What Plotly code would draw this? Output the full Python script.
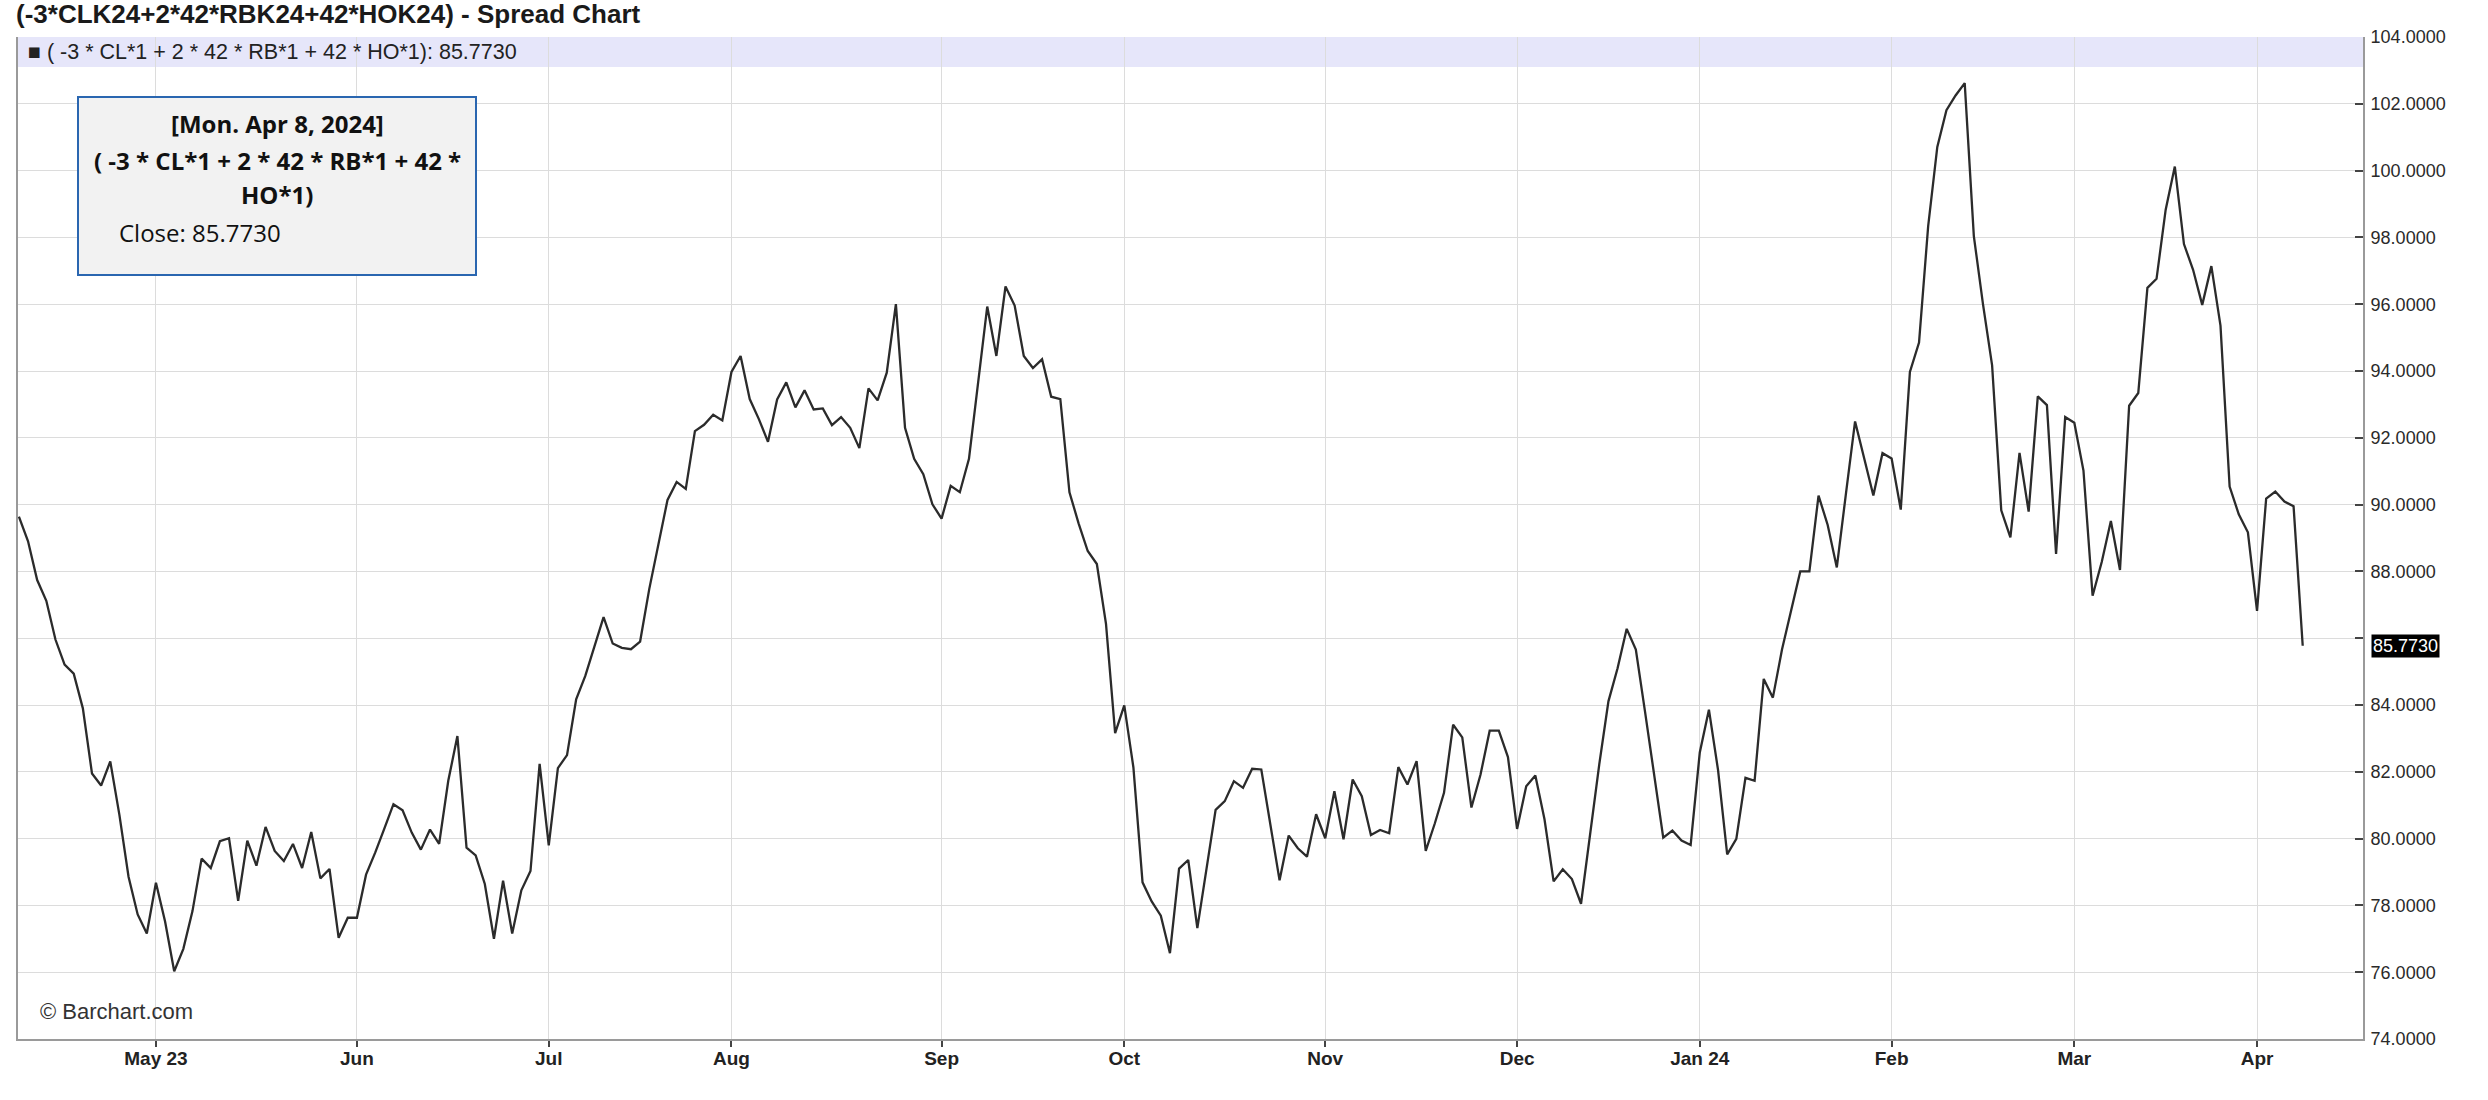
import pandas as pd
import plotly.graph_objects as go

# ---------------- data ----------------
HOLIDAYS = ["2023-05-29", "2023-06-19", "2023-07-04", "2023-09-04", "2023-11-23",
            "2023-12-25", "2024-01-01", "2024-01-15", "2024-02-19", "2024-03-29"]
START_DATE = "2023-04-10"
END_DATE = "2024-04-08"

close_values = [
    89.64, 88.90, 87.74, 87.12, 85.96, 85.21, 84.94, 83.90, 81.95, 81.59,
    82.31, 80.71, 78.86, 77.73, 77.16, 78.68, 77.52, 76.03, 76.70, 77.83,
    79.40, 79.12, 79.92, 80.01, 78.14, 79.94, 79.19, 80.35, 79.63, 79.33,
    79.84, 79.12, 80.20, 78.81, 79.09, 77.03, 77.63, 77.63, 78.92, 79.58,
    80.30, 81.03, 80.85, 80.18, 79.67, 80.27, 79.84, 81.73, 83.07, 79.73,
    79.50, 78.64, 77.00, 78.74, 77.16, 78.45, 79.03, 82.24, 79.80, 82.11,
    82.50, 84.17, 84.87, 85.77, 86.63, 85.84, 85.71, 85.67, 85.90, 87.47,
    88.79, 90.14, 90.68, 90.47, 92.20, 92.39, 92.69, 92.52, 93.97, 94.45,
    93.16, 92.56, 91.88, 93.15, 93.66, 92.91, 93.42, 92.85, 92.88, 92.38,
    92.62, 92.30, 91.69, 93.48, 93.12, 93.95, 96.00, 92.30, 91.37, 90.91,
    90.01, 89.58, 90.56, 90.37, 91.37, 93.74, 95.93, 94.45, 96.53, 95.96,
    94.45, 94.09, 94.35, 93.23, 93.16, 90.37, 89.44, 88.61, 88.22, 86.43,
    83.16, 83.99, 82.13, 78.69, 78.12, 77.69, 76.57, 79.10, 79.36, 77.32,
    79.10, 80.86, 81.12, 81.72, 81.52, 82.09, 82.07, 80.41, 78.75, 80.09,
    79.71, 79.46, 80.73, 80.01, 81.42, 79.98, 81.77, 81.27, 80.11, 80.26,
    80.16, 82.14, 81.62, 82.32, 79.63, 80.46, 81.37, 83.41, 83.03, 80.93,
    81.92, 83.23, 83.23, 82.44, 80.29, 81.57, 81.89, 80.58, 78.72, 79.08,
    78.79, 78.05, 80.20, 82.23, 84.11, 85.10, 86.28, 85.66, 83.81, 81.93,
    80.03, 80.24, 79.94, 79.81, 82.58, 83.86, 82.05, 79.53, 79.99, 81.82,
    81.73, 84.78, 84.22, 85.66, 86.80, 88.00, 88.00, 90.27, 89.39, 88.12,
    90.33, 92.49, 91.38, 90.27, 91.54, 91.38, 89.85, 93.97, 94.85, 98.34,
    100.71, 101.81, 102.25, 102.62, 98.04, 96.00, 94.17, 89.83, 89.02, 91.55,
    89.79, 93.24, 92.98, 88.52, 92.62, 92.45, 91.02, 87.27, 88.28, 89.51,
    88.04, 92.96, 93.34, 96.49, 96.76, 98.83, 100.12, 97.80, 97.03, 95.98,
    97.14, 95.36, 90.54, 89.71, 89.17, 86.82, 90.18, 90.39, 90.09, 89.95,
    85.773,
]

month_tick_labels = ["May 23", "Jun", "Jul", "Aug", "Sep", "Oct", "Nov", "Dec",
                     "Jan 24", "Feb", "Mar", "Apr"]
y_tick_values = list(range(74, 105, 2))

TITLE = "(-3*CLK24+2*42*RBK24+42*HOK24) - Spread Chart"
SERIES_NAME = "( -3 * CL*1 + 2 * 42 * RB*1 + 42 * HO*1)"
TOOLTIP_DATE = "[Mon. Apr 8, 2024]"

# ---------------- derived ----------------
dates = pd.bdate_range(START_DATE, END_DATE, freq="C", holidays=HOLIDAYS)
assert len(dates) == len(close_values), (len(dates), len(close_values))
date_str = [d.strftime("%Y-%m-%d") for d in dates]

month_first = []
seen = set()
for d in dates:
    key = (d.year, d.month)
    if key not in seen:
        seen.add(key)
        month_first.append(d.strftime("%Y-%m-%d"))
month_first = month_first[1:1 + len(month_tick_labels)]

last_val = close_values[-1]

# the y label nearest the last value is replaced by the last-value marker
hidden_tick = min(y_tick_values, key=lambda v: abs(v - last_val))
y_tick_text = ["" if v == hidden_tick else f"{v:.4f}" for v in y_tick_values]

W, H = 2488, 1100
L, R, T, B = 18, 125, 37, 61
pw, ph = W - L - R, H - T - B

def px_x(x):
    return (x - L) / pw

def px_y(y):
    return (H - B - y) / ph

fig = go.Figure()
fig.add_trace(go.Scatter(
    x=date_str, y=close_values, mode="lines",
    line=dict(color="#2b2b2b", width=2.3),
    name=SERIES_NAME, showlegend=False, hoverinfo="skip",
))

grid_c = "#dcdcdc"
fig.update_layout(
    width=W, height=H,
    margin=dict(l=L, r=R, t=T, b=B, pad=0, autoexpand=False),
    paper_bgcolor="white", plot_bgcolor="white",
    showlegend=False,
    title=dict(text=TITLE, x=16 / W, xanchor="left", y=1 - 14 / H, yanchor="middle",
               font=dict(family="Liberation Sans", size=26, color="#1a1a1a", weight="bold")),
    xaxis=dict(
        type="category", range=[-0.1, 256.6], automargin=False,
        tickmode="array", tickvals=month_first, ticktext=month_tick_labels,
        showgrid=True, gridcolor=grid_c, gridwidth=1,
        ticks="outside", ticklen=6, tickwidth=2, tickcolor="#444",
        showline=True, linecolor="#9a9a9a", linewidth=2,
        tickfont=dict(family="Liberation Sans", size=19, color="#222", weight="bold"),
        ticklabelstandoff=-5,
        zeroline=False, fixedrange=True,
    ),
    yaxis=dict(
        side="right", range=[74, 104], automargin=False,
        tickmode="array", tickvals=y_tick_values, ticktext=y_tick_text,
        showgrid=True, gridcolor=grid_c, gridwidth=1,
        ticks="inside", ticklen=8, tickwidth=2, tickcolor="#444",
        showline=True, linecolor="#9a9a9a", linewidth=2, mirror=True,
        tickfont=dict(family="Liberation Sans", size=18, color="#2a2a2a"),
        ticklabelstandoff=2,
        zeroline=False, fixedrange=True,
    ),
)

# legend band
fig.add_shape(type="rect", xref="paper", yref="paper", x0=0, x1=1,
              y0=px_y(67), y1=1, fillcolor="#e6e6fa", line=dict(width=0), layer="below")
fig.add_annotation(xref="paper", yref="paper", x=px_x(26), y=px_y(52),
                   xanchor="left", yanchor="middle", showarrow=False,
                   text=f"■ {SERIES_NAME}: {last_val:.4f}",
                   font=dict(family="Liberation Sans", size=21.5, color="#222"))

# tooltip box
fig.add_shape(type="rect", xref="paper", yref="paper",
              x0=px_x(78), x1=px_x(476), y0=px_y(275), y1=px_y(97),
              fillcolor="#f2f2f2", line=dict(color="#2a66b0", width=2), layer="above")
cx = px_x(277)
tip_lines = [TOOLTIP_DATE, "( -3 * CL*1 + 2 * 42 * RB*1 + 42 *", "HO*1)"]
for txt, yy in zip(tip_lines, [123, 160, 195]):
    fig.add_annotation(xref="paper", yref="paper", x=cx, y=px_y(yy),
                       xanchor="center", yanchor="middle", showarrow=False,
                       text=txt,
                       font=dict(family="Open Sans", size=24, color="#111", weight="bold"))
fig.add_annotation(xref="paper", yref="paper", x=px_x(117), y=px_y(233),
                   xanchor="left", yanchor="middle", showarrow=False,
                   text=f"Close: {last_val:.4f}",
                   font=dict(family="Open Sans", size=24, color="#111"))

# last value marker on y axis
fig.add_annotation(xref="paper", yref="y", x=1, xshift=8, y=last_val,
                   xanchor="left", yanchor="middle", showarrow=False,
                   text=f"{last_val:.4f}", bgcolor="#000000", borderpad=1,
                   font=dict(family="Liberation Sans", size=18, color="#ffffff"))

# watermark
fig.add_annotation(xref="paper", yref="paper", x=px_x(38), y=px_y(1011),
                   xanchor="left", yanchor="middle", showarrow=False,
                   text="© Barchart.com",
                   font=dict(family="Liberation Sans", size=22, color="#333"))

fig.write_html("out.html", config={"displayModeBar": False},
               post_script="document.body.style.margin='0px';")
